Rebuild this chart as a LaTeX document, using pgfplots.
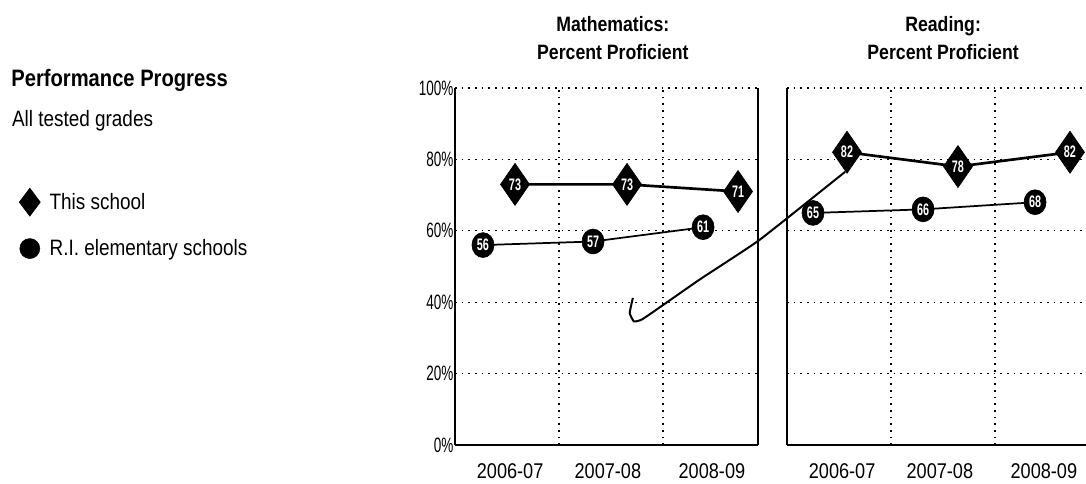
\documentclass[border=0pt]{standalone}
\usepackage{fontspec}
\setmainfont{Liberation Sans}[FakeStretch=0.85]
\newfontfamily\narrow{Liberation Sans}[FakeStretch=0.65]
\usepackage{pgfplots}
\pgfplotsset{compat=1.18}
\begin{document}
\begin{tikzpicture}
\useasboundingbox (0pt,0pt) rectangle (814.5pt,363pt);
\pgfplotsset{
  /pgf/number format/assume math mode=true,
  panel/.style={
    scale only axis, height=267.75pt,
    ymin=0, ymax=100, xmin=0,
    axis x line*=bottom, axis y line*=left,
    axis line style={line width=1.2pt, -},
    ytick={0,20,40,60,80,100},
    ymajorgrids,
    grid style={black, line width=0.9pt, dash pattern=on 1.2pt off 3.8pt},
    xtick={0.53,1.47,2.47},
    xticklabels={2006-07,2007-08,2008-09},
    extra x ticks={1,2},
    extra x tick labels={},
    extra x tick style={xmajorgrids=true},
    major tick length=0pt,
    xticklabel style={font=\fontsize{16}{18}\selectfont, anchor=north, yshift=-10.5pt},
    clip=false,
  },
  school/.style={black, line width=2pt, mark=diamond*, mark size=15.75pt,
    mark options={xscale=0.92, solid, line width=0.5pt},
    nodes near coords,
    every node near coord/.style={anchor=center, text=white, inner sep=0pt,
      font=\narrow\bfseries\fontsize{12.5}{12.5}\selectfont}},
  ri/.style={black, line width=1.3pt, mark=*, mark size=8.25pt,
    mark options={yscale=1.13, solid, line width=0.5pt},
    nodes near coords,
    every node near coord/.style={anchor=center, text=white, inner sep=0pt,
      font=\narrow\bfseries\fontsize{12.5}{12.5}\selectfont}},
}
% Mathematics panel
\begin{axis}[panel,
  at={(341.25pt,29.25pt)}, anchor=south west,
  width=227.25pt, xmax=2.913,
  yticklabels={0\%,20\%,40\%,60\%,80\%,100\%},
  yticklabel style={font=\narrow\fontsize{15.6}{16}\selectfont, inner sep=1pt},
  title={Mathematics:\\[4pt]Percent Proficient},
  title style={font=\bfseries\fontsize{15.6}{17}\selectfont, align=center, at={(0.521,1.192)}, anchor=north},
  legend style={at={(-1.452,0.7276)}, anchor=north west, draw=none, fill=none,
    font=\fontsize{16.7}{18}\selectfont, row sep=15.5pt, column sep=5pt},
  legend cell align=left,
]
\addlegendimage{legend image code/.code={\draw[black] plot[mark=diamond*, mark size=10.5pt] coordinates {(0pt,0pt)};}}
\addlegendentry{This school}
\addlegendimage{legend image code/.code={\draw[black] plot[mark=*, mark size=7.5pt] coordinates {(0pt,0pt)};}}
\addlegendentry{R.I. elementary schools}
\draw[black, line width=1.2pt] (rel axis cs:1,0) -- (rel axis cs:1,1);
\addplot[black, line width=1.5pt, mark=none, smooth, tension=0.25] coordinates {
  (3.75,76.5) (2.93,57.5) (2.36,46.5) (2.0,39.2) (1.80,35.2) (1.72,34.6) (1.68,37.0) (1.71,41.2)};
\addplot[ri] coordinates {(0.269,56) (1.327,57) (2.385,61)};
\addplot[school] coordinates {(0.577,73) (1.654,73) (2.721,71)};
\end{axis}
% Reading panel
\begin{axis}[panel,
  at={(590.25pt,29.25pt)}, anchor=south west,
  width=224.25pt, xmax=2.875,
  yticklabels={},
  title={Reading:\\[4pt]Percent Proficient},
  title style={font=\bfseries\fontsize{15.6}{17}\selectfont, align=center, at={(0.522,1.192)}, anchor=north},
]
\addplot[ri] coordinates {(0.25,65) (1.308,66) (2.385,68)};
\addplot[school] coordinates {(0.577,82) (1.644,78) (2.721,82)};
\end{axis}
\node[anchor=base west, font=\bfseries\fontsize{17.8}{20}\selectfont] at (5pt,297.75pt) {Performance Progress};
\node[anchor=base west, font=\fontsize{16.7}{18}\selectfont] at (5.5pt,267.75pt) {All tested grades};
\end{tikzpicture}
\end{document}
